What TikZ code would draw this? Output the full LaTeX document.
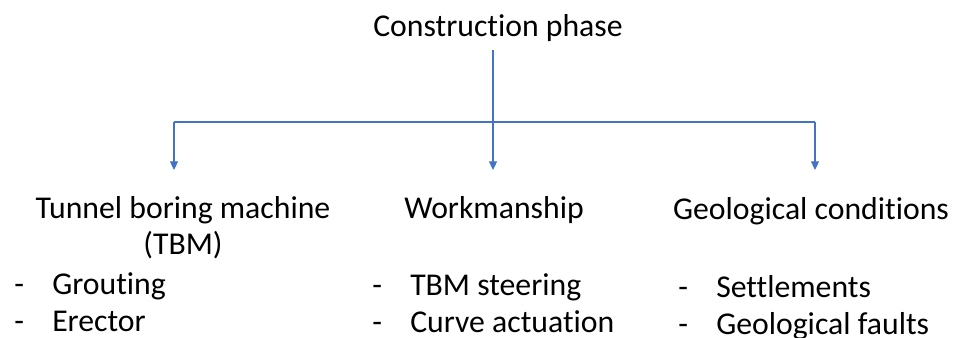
\documentclass[tikz,border=0pt]{standalone}
\usepackage{fontspec}
\setmainfont{Carlito}[Ligatures=NoCommon]
\usetikzlibrary{arrows.meta,positioning}
\definecolor{linkblue}{HTML}{4472C4}
\newcommand{\dashitem}[1]{\makebox[28.5pt][l]{-}#1}

\begin{document}
\begin{tikzpicture}[x=0.75pt,y=-0.75pt,
  txt/.style={inner sep=0pt,font=\fontsize{23.8}{26.6}\selectfont},
  head/.style={txt,align=center,anchor=base},
  items/.style={txt,align=left,anchor=base west,font=\fontsize{23.8}{27.5}\selectfont},
  link/.style={draw=linkblue,line width=0.8pt},
  arr/.style={link,-{Triangle[width=6pt,length=6.5pt]}}]
	\useasboundingbox (0,0) rectangle (956,338);
	% headings (base = last line)
	\node[head] (phase) at (498,37) {Construction phase};
	\node[head] (tbm) at (183,254) {Tunnel boring machine\\(TBM)};
	\node[head] (work) at (494,219) {Workmanship};
	\node[head] (geo) at (811,220) {Geological conditions};
	% bullet lists
	\node[items] (tbmlist) at (14,331) {\dashitem{Grouting}\\\dashitem{Erector}};
	\node[items] (worklist) at (372,332) {\dashitem{TBM steering}\\\dashitem{Curve actuation}};
	\node[items] (geolist) at (678,334) {\dashitem{Settlements}\\\dashitem{Geological faults}};
	% branching
	\coordinate (hub) at (493,122);
	\coordinate (tbmbar) at (174,122);
	\coordinate (geobar) at (815,122);
	\coordinate (tbmtip) at (174,170);
	\coordinate (worktip) at (493,170);
	\coordinate (geotip) at (815,170);
	\draw[link,shorten <=6pt] (phase.south -| hub) -- (hub);
	\draw[link] (tbmbar) -- (geobar);
	\draw[arr] (tbmbar) -- (tbmtip);
	\draw[arr] (hub) -- (worktip);
	\draw[arr] (geobar) -- (geotip);
\end{tikzpicture}
\end{document}
